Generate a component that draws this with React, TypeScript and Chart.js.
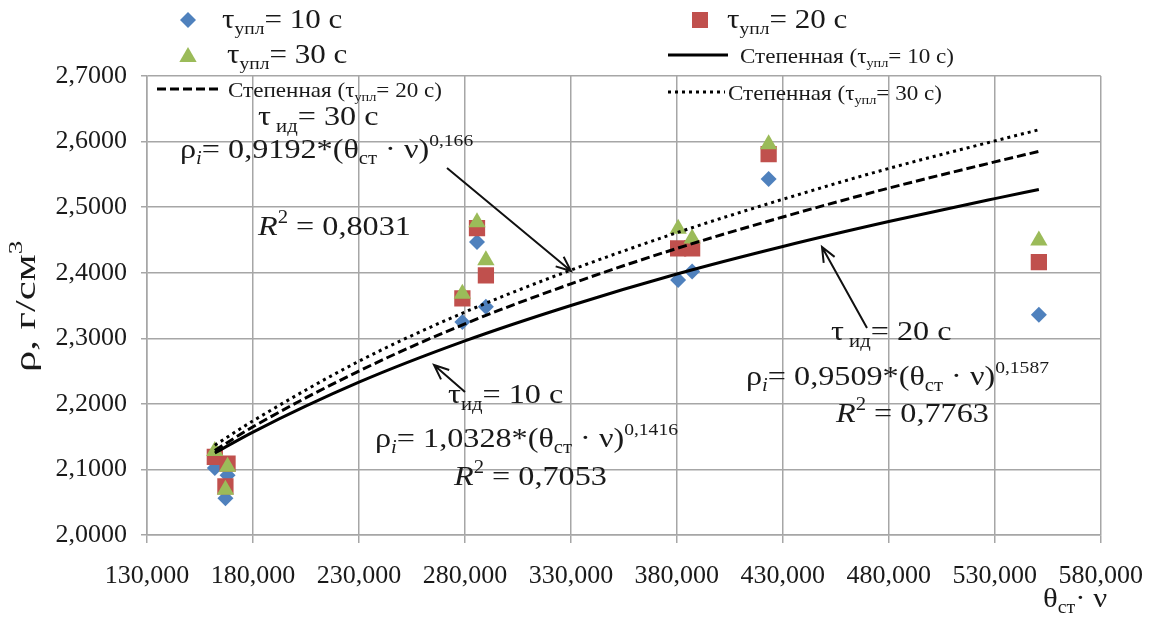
import React, { useEffect, useRef } from 'react';
import { Chart, registerables } from 'chart.js';

Chart.register(...registerables);

// ---- axis ranges / ticks ----
const X_MIN = 130;
const X_MAX = 580;
const X_STEP = 50;
const Y_MIN = 2.0;
const Y_MAX = 2.7;
const Y_STEP = 0.1;

// ---- measured points (θст·ν, ρ) ----
const xPoints = [162, 168, 167, 278.8, 285.7, 289.9, 380.6, 387.2, 423.3, 550.8];
const rhoTau10 = [2.102, 2.091, 2.056, 2.325, 2.447, 2.348, 2.389, 2.402, 2.543, 2.336];
const rhoTau20 = [2.119, 2.109, 2.074, 2.361, 2.468, 2.396, 2.437, 2.437, 2.581, 2.416];
const rhoTau30 = [2.128, 2.104, 2.069, 2.368, 2.477, 2.419, 2.467, 2.452, 2.596, 2.449];

// ---- power trend lines ----
const xTrend = [162, 180, 230, 280, 330, 380, 430, 480, 530, 550.8];
const trend10 = [2.125, 2.157, 2.233, 2.296, 2.35, 2.398, 2.44, 2.478, 2.513, 2.527];
const trend20 = [2.129, 2.165, 2.25, 2.322, 2.383, 2.437, 2.485, 2.529, 2.569, 2.585];
const trend30 = [2.137, 2.174, 2.265, 2.34, 2.404, 2.461, 2.512, 2.559, 2.601, 2.618];

const BLUE = '#4f81bd';
const RED = '#c0504d';
const GREEN = '#9bbb59';
const GRID = '#a6a6a6';
const TEXT = '#1a1a1a';
const FONT = '"Liberation Serif", "Times New Roman", serif';

type Seg = { t: string; s: number; dy?: number; it?: boolean };

function drawRich(ctx: CanvasRenderingContext2D, x: number, y: number, segs: Seg[], sx = 1.15) {
  ctx.save();
  ctx.translate(x, y);
  ctx.scale(sx, 1);
  ctx.textAlign = 'left';
  ctx.textBaseline = 'alphabetic';
  ctx.fillStyle = TEXT;
  let cx = 0;
  for (const g of segs) {
    ctx.font = `${g.it ? 'italic ' : ''}${g.s}px ${FONT}`;
    ctx.fillText(g.t, cx, g.dy || 0);
    cx += ctx.measureText(g.t).width;
  }
  ctx.restore();
}

function arrow(ctx: CanvasRenderingContext2D, x1: number, y1: number, x2: number, y2: number) {
  ctx.save();
  ctx.strokeStyle = '#111';
  ctx.lineWidth = 2;
  ctx.beginPath();
  ctx.moveTo(x1, y1);
  ctx.lineTo(x2, y2);
  const a = Math.atan2(y2 - y1, x2 - x1);
  const L = 16;
  ctx.moveTo(x2 - L * Math.cos(a - 0.4), y2 - L * Math.sin(a - 0.4));
  ctx.lineTo(x2, y2);
  ctx.lineTo(x2 - L * Math.cos(a + 0.4), y2 - L * Math.sin(a + 0.4));
  ctx.stroke();
  ctx.restore();
}

function marker(ctx: CanvasRenderingContext2D, kind: string, x: number, y: number, color: string) {
  ctx.save();
  ctx.fillStyle = color;
  ctx.beginPath();
  if (kind === 'diamond') {
    const r = 8;
    ctx.moveTo(x - r, y);
    ctx.lineTo(x, y - r);
    ctx.lineTo(x + r, y);
    ctx.lineTo(x, y + r);
  } else if (kind === 'square') {
    const h = 8;
    ctx.rect(x - h, y - h, 2 * h, 2 * h);
  } else {
    const r = 10;
    ctx.moveTo(x, y - r);
    ctx.lineTo(x + r * 0.866, y + r / 2);
    ctx.lineTo(x - r * 0.866, y + r / 2);
  }
  ctx.closePath();
  ctx.fill();
  ctx.restore();
}

function legendLine(ctx: CanvasRenderingContext2D, x1: number, x2: number, y: number, dash: number[]) {
  ctx.save();
  ctx.strokeStyle = '#000';
  ctx.lineWidth = 3;
  ctx.setLineDash(dash);
  ctx.beginPath();
  ctx.moveTo(x1, y);
  ctx.lineTo(x2, y);
  ctx.stroke();
  ctx.restore();
}

const tauLabel = (n: string, big = 27): Seg[] => [
  { t: 'τ', s: big },
  { t: 'упл', s: 17, dy: 6 },
  { t: `= ${n} с`, s: big },
];
const stepLabel = (n: string): Seg[] => [
  { t: 'Степенная (τ', s: 21 },
  { t: 'упл', s: 13, dy: 4 },
  { t: `= ${n} с)`, s: 21 },
];

const overlay = {
  id: 'overlay',
  afterDraw(chart: any) {
    const ctx: CanvasRenderingContext2D = chart.ctx;
    // legend
    marker(ctx, 'diamond', 188, 20, BLUE);
    drawRich(ctx, 222, 28, tauLabel('10'));
    marker(ctx, 'triangle', 188, 57, GREEN);
    drawRich(ctx, 227, 63, tauLabel('30'));
    legendLine(ctx, 157, 220, 89, [9, 4]);
    drawRich(ctx, 228, 97, stepLabel('20'), 1.1);

    marker(ctx, 'square', 700, 20, RED);
    drawRich(ctx, 727, 28, tauLabel('20'));
    legendLine(ctx, 668, 728, 55, []);
    drawRich(ctx, 740, 63, stepLabel('10'), 1.1);
    legendLine(ctx, 668, 725, 92, [3, 4]);
    drawRich(ctx, 728, 100, stepLabel('30'), 1.1);

    // annotations: tau = 30
    drawRich(ctx, 258, 125, [{ t: 'τ', s: 28 }, { t: ' ид', s: 18, dy: 7 }, { t: '= 30 с', s: 28 }]);
    drawRich(ctx, 180, 158, [
      { t: 'ρ', s: 28 }, { t: 'i', s: 18, dy: 6, it: true }, { t: '= 0,9192*(θ', s: 28 },
      { t: 'ст', s: 18, dy: 6 }, { t: ' · ν)', s: 28 }, { t: '0,166', s: 17, dy: -12 },
    ]);
    drawRich(ctx, 258, 235, [{ t: 'R', s: 28, it: true }, { t: '2', s: 18, dy: -12 }, { t: ' = 0,8031', s: 28 }]);
    arrow(ctx, 447, 168, 571, 271);

    // tau = 10
    drawRich(ctx, 448, 403, [{ t: 'τ', s: 28 }, { t: 'ид', s: 18, dy: 7 }, { t: '= 10 с', s: 28 }]);
    drawRich(ctx, 375, 447, [
      { t: 'ρ', s: 28 }, { t: 'i', s: 18, dy: 6, it: true }, { t: '= 1,0328*(θ', s: 28 },
      { t: 'ст', s: 18, dy: 6 }, { t: ' · ν)', s: 28 }, { t: '0,1416', s: 17, dy: -12 },
    ]);
    drawRich(ctx, 454, 485, [{ t: 'R', s: 28, it: true }, { t: '2', s: 18, dy: -12 }, { t: ' = 0,7053', s: 28 }]);
    arrow(ctx, 465, 392, 434, 365);

    // tau = 20
    drawRich(ctx, 831, 340, [{ t: 'τ', s: 28 }, { t: ' ид', s: 18, dy: 7 }, { t: '= 20 с', s: 28 }]);
    drawRich(ctx, 746, 385, [
      { t: 'ρ', s: 28 }, { t: 'i', s: 18, dy: 6, it: true }, { t: '= 0,9509*(θ', s: 28 },
      { t: 'ст', s: 18, dy: 6 }, { t: ' · ν)', s: 28 }, { t: '0,1587', s: 17, dy: -12 },
    ]);
    drawRich(ctx, 836, 422, [{ t: 'R', s: 28, it: true }, { t: '2', s: 18, dy: -12 }, { t: ' = 0,7763', s: 28 }]);
    arrow(ctx, 867, 328, 822, 247);

    // axis titles
    ctx.save();
    ctx.translate(35, 372);
    ctx.rotate(-Math.PI / 2);
    drawRich(ctx, 0, 0, [{ t: 'ρ, г/см', s: 30 }, { t: '3', s: 19, dy: -13 }], 1.42);
    ctx.restore();
    drawRich(ctx, 1043, 607, [{ t: 'θ', s: 28 }, { t: 'ст', s: 18, dy: 6 }, { t: '· ν', s: 28 }], 1.1);
  },
};

export default function App() {
  const ref = useRef<HTMLCanvasElement | null>(null);

  useEffect(() => {
    if (!ref.current) return;
    const pts = (xs: number[], ys: number[]) => xs.map((x, i) => ({ x, y: ys[i] }));
    const trendDs = (label: string, ys: number[], dash: number[]) => ({
      label,
      data: pts(xTrend, ys),
      showLine: true,
      borderColor: '#000',
      borderWidth: 3,
      borderDash: dash,
      pointRadius: 0,
      cubicInterpolationMode: 'monotone' as const,
      order: 0,
    });
    const chart = new Chart(ref.current, {
      type: 'scatter',
      data: {
        datasets: [
          { label: 'τупл= 10 с', data: pts(xPoints, rhoTau10), pointStyle: 'rectRot', pointRadius: 8, backgroundColor: BLUE, borderWidth: 0, order: 3 },
          { label: 'τупл= 20 с', data: pts(xPoints, rhoTau20), pointStyle: 'rect', pointRadius: 11.5, backgroundColor: RED, borderWidth: 0, order: 2 },
          { label: 'τупл= 30 с', data: pts(xPoints, rhoTau30), pointStyle: 'triangle', pointRadius: 10, backgroundColor: GREEN, borderWidth: 0, order: 1 },
          trendDs('Степенная (τупл= 10 с)', trend10, []),
          trendDs('Степенная (τупл= 20 с)', trend20, [9, 4]),
          trendDs('Степенная (τупл= 30 с)', trend30, [3, 4]),
        ] as any,
      },
      options: {
        animation: false,
        responsive: true,
        maintainAspectRatio: false,
        layout: { padding: { top: 76, right: 58, left: 0, bottom: 0 } },
        plugins: { legend: { display: false }, tooltip: { enabled: false } },
        scales: {
          x: {
            type: 'linear',
            min: X_MIN,
            max: X_MAX,
            afterFit: (s: any) => { s.height = 82; },
            ticks: {
              stepSize: X_STEP,
              padding: 18,
              color: TEXT,
              font: { family: FONT, size: 26 },
              callback: (v: any) => Number(v).toFixed(3).replace('.', ','),
            },
            grid: { color: GRID, lineWidth: 1.5, tickLength: 8 },
            border: { color: GRID, width: 1.5 },
          },
          y: {
            min: Y_MIN,
            max: Y_MAX,
            afterFit: (s: any) => { s.width = 147; },
            ticks: {
              stepSize: Y_STEP,
              padding: 14,
              color: TEXT,
              font: { family: FONT, size: 26 },
              callback: (v: any) => Number(v).toFixed(4).replace('.', ','),
            },
            grid: { color: GRID, lineWidth: 1.5, tickLength: 6 },
            border: { color: GRID, width: 1.5 },
          },
        },
      },
      plugins: [overlay],
    });
    return () => chart.destroy();
  }, []);

  return (
    <div style={{ position: 'absolute', left: 0, top: 0, width: 1161, height: 617, background: '#fff' }}>
      <canvas ref={ref} />
    </div>
  );
}
